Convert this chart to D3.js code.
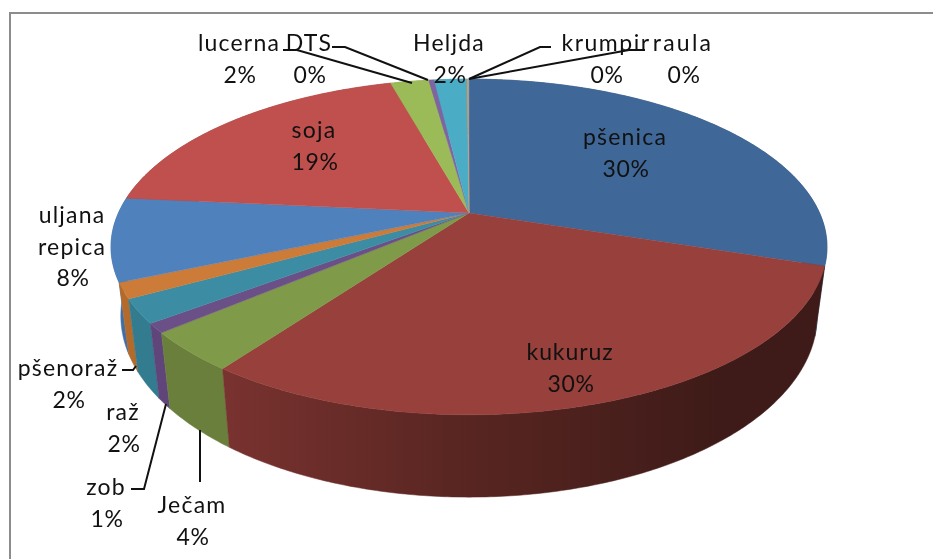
<!DOCTYPE html>
<html><head><meta charset="utf-8">
<script src="https://cdn.jsdelivr.net/npm/d3@7/dist/d3.min.js"></script>
<style>html,body{margin:0;background:#fff}svg{display:block}text{font-family:Lato,"Open Sans",sans-serif;font-size:23px;fill:#111}</style>
</head><body><div id="c"></div>
<script>
const categories=["pšenica","kukuruz","Ječam","zob","raž","pšenoraž","uljana repica","soja","lucerna","DTS","Heljda","krumpir","raula"];
const values=[30,30,3.8,0.9,2.3,1.5,8.0,19.2,2.1,0.3,1.8,0.05,0.05];
const topColors=["#3f6899","#97403c","#7f9a48","#6b5088","#3c8da3","#cc7b38","#4f81bd","#c0504d","#9bbb59","#8064a2","#4bacc6","#f79646","#a5a5a5"];
const sideColors=["#2f4e73","#7a322f","#6a7f3c","#5f4579","#337c90","#b36a2a","#3f6fa6","#a04340","#83a04a","#6c5489","#3f92a8","#d07f3b","#8c8c8c"];
const labelLines=[["pšenica"],["kukuruz"],["Ječam"],["zob"],["raž"],["pšenoraž"],["uljana","repica"],["soja"],["lucerna"],["DTS"],["Heljda"],["krumpir"],["raula"]];
const labelX=[625,570,192,106,123,68,72,314,239,309,449,606,683];
const labelY=[137,352,505,487,412,368,215,130,43,43,43,43,43];
const nameSpacing=[1.2,0.9,1.2,1.2,1.2,1.2,1.2,1.2,1.2,1.2,1.2,1.5,2.2];
const leaders=[[],[],[[200,482],[200,430]],[[131,489],[144,489],[166,404]],[],[[122,370],[133,370],[136,366]],[],[],[[283,50],[297,50],[412,83]],[[332,47],[345,47],[428,80]],[],[[551,47],[540,47],[469,79]],[[645,50],[629,50],[469,79]]];
const W=933,H=559,k=0.2023;
const svg=d3.select("#c").append("svg").attr("width",W).attr("height",H);
const defs=svg.append("defs");
defs.append("filter").attr("id","soft").attr("x",0).attr("y",0).attr("width",1).attr("height",1).attr("color-interpolation-filters","sRGB").append("feGaussianBlur").attr("stdDeviation",0.45);
const g=defs.append("linearGradient").attr("id","kukSide").attr("gradientUnits","userSpaceOnUse").attr("x1",230).attr("x2",720).attr("y1",0).attr("y2",0);
[[0,"#78322f"],[.45,"#5a2622"],[1,"#3e1b18"]].forEach(s=>g.append("stop").attr("offset",s[0]).attr("stop-color",s[1]));
const root=svg.append("g").attr("filter","url(#soft)");
root.append("rect").attr("width",W).attr("height",H).attr("fill","#fff");
root.append("path").attr("d","M10 559V13H933").attr("fill","none").attr("stroke","#8c8c8c").attr("stroke-width",2);
const pie=d3.pie().sort(null).value(d=>d)(values);
const plane=(cy,A,B)=>a=>{const u=Math.sin(a),v=-Math.cos(a),den=1-k*v;return [469+A*u/den,cy+B*v/den];};
const topP=plane(213,350.6,161),botP=plane(279,341,174);
const arcPts=(f,a0,a1)=>{const n=Math.max(2,Math.ceil((a1-a0)/0.01));return d3.range(n+1).map(i=>f(a0+(a1-a0)*i/n));};
const line=d3.line();
const order=d3.range(pie.length).sort((a,b)=>{const m=p=>-Math.cos((p.startAngle+p.endAngle)/2);return m(pie[a])-m(pie[b]);});
order.forEach(i=>{const p=pie[i];
 const pts=arcPts(topP,p.startAngle,p.endAngle).concat(arcPts(botP,p.startAngle,p.endAngle).reverse());
 root.append("path").attr("d",line(pts)+"Z").attr("fill",i===1?"url(#kukSide)":sideColors[i]).attr("stroke",i===1?"url(#kukSide)":sideColors[i]).attr("stroke-width",.5);
});
pie.forEach((p,i)=>{
 const pts=[[469,213]].concat(arcPts(topP,p.startAngle,p.endAngle));
 root.append("path").attr("d",line(pts)+"Z").attr("fill",topColors[i]).attr("stroke",topColors[i]).attr("stroke-width",.4);
});
leaders.forEach(l=>{if(l.length)root.append("path").attr("d",line(l)).attr("fill","none").attr("stroke","#111").attr("stroke-width",2);});
const total=d3.sum(values);
categories.forEach((c,i)=>{
 const lines=labelLines[i].concat([Math.round(values[i]/total*100)+"%"]);
 lines.forEach((t,j)=>{const isPct=j===lines.length-1;
  root.append("text").attr("x",labelX[i]+(isPct?1:0)).attr("y",labelY[i]+j*31.5).attr("dy","0.35em").attr("text-anchor","middle").attr("letter-spacing",isPct?"0.6px":nameSpacing[i]+"px").text(t);});
});
</script></body></html>
